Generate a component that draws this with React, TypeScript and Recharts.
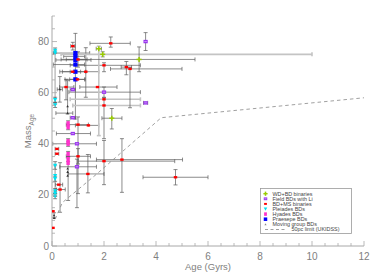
import { ErrorBar, Legend, Scatter, ScatterChart, XAxis, YAxis } from "recharts";

type Pt = {
  age: number;
  mass: number;
  ex?: [number, number];
  ey?: [number, number];
  exL?: [number, number];
  eyL?: [number, number];
};

// values (age in Gyr, mass in Mjup)
const wdBdBinaries: Pt[] = [
  { age: 1.8, mass: 77.2, ex: [0.1, 0.1], eyL: [34, 1] },
  { age: 1.95, mass: 75, exL: [1.6, 8.05], ey: [1, 1] },
  { age: 3.35, mass: 73, ex: [3.0, 2.15], ey: [4.8, 4.9] },
  { age: 2.3, mass: 50, ex: [0.38, 0.39], ey: [4.2, 3.8] },
];

const fieldLi: Pt[] = [
  { age: 3.6, mass: 80, ey: [3.5, 3.5] },
  { age: 3.6, mass: 56, ex: [0.08, 0.08] },
  { age: 2.0, mass: 60.2, ex: [1.35, 1.4], ey: [2, 2] },
  { age: 0.8, mass: 61.2, ex: [0.1, 0.1] },
  { age: 0.8, mass: 50.2, ex: [0.1, 0.1] },
  { age: 0.8, mass: 44, ex: [0.63, 0.68] },
  { age: 0.96, mass: 40, ex: [0.93, 0.75] },
  { age: 0.96, mass: 31, ex: [0.66, 0.75], ey: [16, 3] },
];

const bdMsBinaries: Pt[] = [
  { age: 0.8, mass: 78.2, ex: [0.08, 0.08], ey: [1.5, 1.5] },
  { age: 2.26, mass: 79.3, ex: [0.8, 0.75], ey: [1.5, 2.5] },
  { age: 1.0, mass: 73, ex: [0.45, 0.35], ey: [3, 3] },
  { age: 2.0, mass: 70.7, ex: [1.3, 1.4], ey: [2.5, 1] },
  { age: 2.86, mass: 70, ex: [0.2, 0.2], ey: [3, 2.2] },
  { age: 3.0, mass: 69.3, ex: [0.75, 2.0], ey: [15.2, 0.5] },
  { age: 0.8, mass: 68.2, ex: [0.4, 0.3] },
  { age: 1.3, mass: 68.2, ex: [0.6, 0.5], ey: [10, 9.4] },
  { age: 0.98, mass: 65.2, ex: [0.3, 0.3] },
  { age: 0.54, mass: 62.2, ex: [0.25, 0.3], ey: [5, 3] },
  { age: 1.75, mass: 62.2, ex: [0.68, 0.75] },
  { age: 2.0, mass: 57.4, exL: [1.3, 1.4] },
  { age: 2.0, mass: 55, exL: [1.2, 1.4], ey: [13, 3] },
  { age: 1.0, mass: 47.5, ex: [0.45, 0.4], ey: [27, 3] },
  { age: 1.4, mass: 47.2, ex: [0.5, 0.4] },
  { age: 0.19, mass: 38, ex: [0.07, 0.07] },
  { age: 0.19, mass: 36.1, ex: [0.07, 0.07] },
  { age: 1.0, mass: 35.1, ex: [0.45, 0.48], ey: [3, 3] },
  { age: 2.0, mass: 33.2, ex: [1.0, 2.72], ey: [9.2, 8.1] },
  { age: 2.69, mass: 33.8, ex: [0.98, 2.33], ey: [12.8, 8.2] },
  { age: 4.75, mass: 26.9, ex: [1.25, 1.25], ey: [3, 3] },
  { age: 1.38, mass: 28.2, ex: [0.76, 0.62], ey: [7.4, 7.6] },
  { age: 0.26, mass: 24, ex: [0.12, 0.15] },
  { age: 0.31, mass: 22.1, ex: [0.14, 0.2], ey: [8.9, 10.5] },
  { age: 0.04, mass: 13.6 },
  { age: 0.04, mass: 7.1 },
];

const pleiades: Pt[] = [
  { age: 0.12, mass: 76.5, ey: [1, 1] },
  { age: 0.12, mass: 75.5, eyL: [20, 1] },
  { age: 0.12, mass: 57.2, ey: [1, 1] },
  { age: 0.12, mass: 55.2, ey: [1, 1] },
  { age: 0.12, mass: 31.5, ey: [1.5, 1.5] },
  { age: 0.12, mass: 27.5, eyL: [8, 4] },
  { age: 0.12, mass: 26.3, ey: [1, 1] },
  { age: 0.12, mass: 21.5, ey: [1, 1] },
  { age: 0.12, mass: 20.5, ey: [1, 1] },
  { age: 0.12, mass: 19.5, ey: [1, 1] },
];

const hyades: Pt[] = [
  { age: 0.62, mass: 48, ey: [1, 1] },
  { age: 0.62, mass: 46.5, ey: [1, 1] },
  { age: 0.62, mass: 41, ey: [1, 1] },
  { age: 0.62, mass: 40, ey: [1, 1] },
  { age: 0.62, mass: 36, ey: [1, 1] },
  { age: 0.62, mass: 34, ey: [1, 1] },
  { age: 0.62, mass: 32.5, ey: [14.7, 2] },
];

const praesepe: Pt[] = [
  { age: 0.9, mass: 75.5, ex: [0.85, 0.55] },
  { age: 0.9, mass: 74.2, ex: [0.45, 0.35] },
  { age: 0.9, mass: 72.8, ex: [0.75, 0.6] },
  { age: 0.9, mass: 71, ex: [0.85, 0.35] },
  { age: 0.9, mass: 68.2, ex: [0.6, 0.4] },
  { age: 0.9, mass: 65.2, ex: [0.4, 0.35], ey: [15.5, 18] },
];

const movingGroup: Pt[] = [
  { age: 0.3, mass: 61.3, ex: [0.1, 0.1], ey: [5, 5] },
  { age: 0.6, mass: 54.7, ey: [3, 10] },
  { age: 0.6, mass: 52, ex: [0.45, 0.2] },
  { age: 0.6, mass: 30.3 },
  { age: 0.6, mass: 29 },
  { age: 0.6, mass: 27.5 },
  { age: 0.08, mass: 12, ey: [1, 1] },
  { age: 0.08, mass: 11 },
];

const limitAges = [0.12, 0.4, 1.7, 4.2, 12];
const limitMass = [10.5, 17, 28, 50.2, 58];
const limitLine = limitAges.map((age, i) => ({ age, mass: limitMass[i] }));

const X_TICKS = [0, 0.5, 1, 1.5, 2, 2.5, 3, 3.5, 4, 4.5, 5, 5.5, 6, 6.5, 7, 7.5, 8, 8.5, 9, 9.5, 10, 10.5, 11, 11.5, 12];
const Y_TICKS = [0, 5, 10, 15, 20, 25, 30, 35, 40, 45, 50, 55, 60, 65, 70, 75, 80, 85, 90];

const FONT = '"Liberation Sans", Arial, sans-serif';
const AXIS = "#a8a8a8";
const TEXT = "#808080";

type Marker = "plus" | "field" | "red" | "tri" | "sqM" | "sqB" | "small";

const SERIES: { name: string; data: Pt[]; color: string; marker: Marker }[] = [
  { name: "WD+BD binaries", data: wdBdBinaries, color: "#99cc00", marker: "plus" },
  { name: "Field BDs with Li", data: fieldLi, color: "#9933ee", marker: "field" },
  { name: "BD+MS binaries", data: bdMsBinaries, color: "#ff0000", marker: "red" },
  { name: "Pleiades BDs", data: pleiades, color: "#00e0f0", marker: "tri" },
  { name: "Hyades BDs", data: hyades, color: "#ff33cc", marker: "sqM" },
  { name: "Praesepe BDs", data: praesepe, color: "#0000ff", marker: "sqB" },
  { name: "Moving group BDs", data: movingGroup, color: "#333333", marker: "small" },
];

const drawMarker = (m: Marker, c: string, cx: number, cy: number, s = 0.85) => {
  switch (m) {
    case "plus":
      return (
        <g>
          <line x1={cx - 3 * s} x2={cx + 3 * s} y1={cy} y2={cy} stroke={c} strokeWidth={1.5} />
          <line x1={cx} x2={cx} y1={cy - 3 * s} y2={cy + 3 * s} stroke={c} strokeWidth={1.5} />
        </g>
      );
    case "field":
      return (
        <g>
          <rect x={cx - 2.5 * s} y={cy - 2 * s} width={5 * s} height={4 * s} fill={c} />
          <line x1={cx - 1.5 * s} x2={cx + 1.5 * s} y1={cy} y2={cy} stroke="#e0b8ff" strokeWidth={0.7} />
        </g>
      );
    case "red":
      return <rect x={cx - 2 * s} y={cy - 1.4 * s} width={4 * s} height={2.8 * s} fill={c} />;
    case "tri":
      return <path d={`M${cx - 2.5 * s},${cy - 2 * s}L${cx + 2.5 * s},${cy - 2 * s}L${cx},${cy + 2.5 * s}Z`} fill={c} />;
    case "sqM":
      return <rect x={cx - 2 * s} y={cy - 2.5 * s} width={4 * s} height={5 * s} fill={c} />;
    case "sqB":
      return <rect x={cx - 2.5 * s} y={cy - 2.5 * s} width={5 * s} height={5 * s} fill={c} />;
    default:
      return <path d={`M${cx - 1.5 * s},${cy + 1.2 * s}L${cx + 1.5 * s},${cy + 1.2 * s}L${cx},${cy - 1.5 * s}Z`} fill={c} />;
  }
};

const BottomTick = (p: any) => {
  const v = p.payload.value;
  const major = v % 2 === 0;
  return (
    <g>
      <line x1={p.x} x2={p.x} y1={p.y} y2={p.y - (major ? 5 : 3)} stroke={AXIS} strokeWidth={0.8} />
      {major && (
        <text x={p.x} y={p.y + 14} textAnchor="middle" fontSize={10} fill={TEXT} fontFamily={FONT}>
          {v}
        </text>
      )}
    </g>
  );
};

const TopTick = (p: any) => {
  const major = p.payload.value % 2 === 0;
  return <line x1={p.x} x2={p.x} y1={p.y} y2={p.y + (major ? 5 : 3)} stroke={AXIS} strokeWidth={0.8} />;
};

const LeftTick = (p: any) => {
  const v = p.payload.value;
  const major = v % 20 === 0;
  return (
    <g>
      <line x1={p.x} x2={p.x + (major ? 5 : 3)} y1={p.y} y2={p.y} stroke={AXIS} strokeWidth={0.8} />
      {major && (
        <text x={p.x - 3} y={p.y + 3.5} textAnchor="end" fontSize={10} fill={TEXT} fontFamily={FONT}>
          {v}
        </text>
      )}
    </g>
  );
};

const RightTick = (p: any) => {
  const major = p.payload.value % 20 === 0;
  return <line x1={p.x} x2={p.x - (major ? 5 : 3)} y1={p.y} y2={p.y} stroke={AXIS} strokeWidth={0.8} />;
};

const XTitle = (p: any) => {
  const vb = p.viewBox;
  return (
    <text x={vb.x + vb.width / 2} y={vb.y + 24} textAnchor="middle" fontSize={9.5} fill={TEXT} fontFamily={FONT}>
      Age (Gyrs)
    </text>
  );
};

const YTitle = (p: any) => {
  const vb = p.viewBox;
  return (
    <text
      transform={`translate(${vb.x + 31},${vb.y + vb.height / 2}) rotate(-90)`}
      textAnchor="middle"
      fontSize={9.5}
      fill={TEXT}
      fontFamily={FONT}
    >
      Mass
      <tspan dy={2.5} fontSize={6.5}>
        Age
      </tspan>
    </text>
  );
};

const LegendBox = () => (
  <svg width={92} height={46} style={{ display: "block" }}>
    <rect x={0.5} y={0.5} width={91} height={45} fill="#fff" stroke="#999" strokeWidth={0.8} />
    {SERIES.map((s, i) => {
      const y = 5.7 + i * 5.1;
      return (
        <g key={s.name}>
          {drawMarker(s.marker, s.marker === "small" ? "#888" : s.color, 5.5, y, 0.7)}
          <text x={12.5} y={y + 1.9} fontSize={5.4} fill="#444" fontFamily={FONT}>
            {s.name}
          </text>
        </g>
      );
    })}
    <line x1={5} x2={27} y1={41.5} y2={41.5} stroke="#777" strokeWidth={0.7} strokeDasharray="3 2.5" />
    <text x={31.5} y={43.4} fontSize={5.4} fill="#444" fontFamily={FONT}>
      50pc limit (UKIDSS)
    </text>
  </svg>
);

const DRAW_ORDER = [6, 4, 3, 5, 2, 1, 0];

export default function App() {
  return (
    <div style={{ position: "fixed", left: 0, top: 0, background: "#fff" }}>
      <ScatterChart width={380} height={280} margin={{ top: 16, right: 16, bottom: 0, left: 0 }}>
        <XAxis
          xAxisId="b"
          dataKey="age"
          type="number"
          domain={[0, 12]}
          allowDataOverflow
          ticks={X_TICKS}
          interval={0}
          height={34}
          tickSize={0}
          tickMargin={0}
          stroke={AXIS}
          tick={BottomTick}
          label={{ content: XTitle }}
        />
        <XAxis
          xAxisId="t"
          orientation="top"
          dataKey="age"
          type="number"
          domain={[0, 12]}
          allowDataOverflow
          ticks={X_TICKS}
          interval={0}
          height={0}
          tickSize={0}
          tickMargin={0}
          stroke={AXIS}
          tick={TopTick}
        />
        <YAxis
          yAxisId="l"
          dataKey="mass"
          type="number"
          domain={[0, 90]}
          allowDataOverflow
          ticks={Y_TICKS}
          interval={0}
          width={52}
          tickSize={0}
          tickMargin={0}
          stroke={AXIS}
          tick={LeftTick}
          label={{ content: YTitle }}
        />
        <YAxis
          yAxisId="r"
          orientation="right"
          dataKey="mass"
          type="number"
          domain={[0, 90]}
          allowDataOverflow
          ticks={Y_TICKS}
          interval={0}
          width={0}
          tickSize={0}
          tickMargin={0}
          stroke={AXIS}
          tick={RightTick}
        />
        <Scatter
          name="50pc limit (UKIDSS)"
          xAxisId="t"
          yAxisId="r"
          data={limitLine}
          line={{ stroke: "#888", strokeWidth: 0.8, strokeDasharray: "3.5 3" }}
          shape={() => <g />}
          isAnimationActive={false}
        />
        {DRAW_ORDER.map((idx) => {
          const s = SERIES[idx];
          return (
            <Scatter
              key={s.name}
              name={s.name}
              xAxisId="b"
              yAxisId="l"
              data={s.data}
              isAnimationActive={false}
              shape={(p: any) => (p.cx == null ? <g /> : drawMarker(s.marker, s.color, p.cx, p.cy))}
            >
              <ErrorBar dataKey="exL" direction="x" width={2} stroke="#c4c4c4" strokeWidth={1.6} isAnimationActive={false} />
              <ErrorBar dataKey="eyL" direction="y" width={2} stroke="#c4c4c4" strokeWidth={1.6} isAnimationActive={false} />
              <ErrorBar dataKey="ex" direction="x" width={2} stroke="#5a5a5a" strokeWidth={0.7} isAnimationActive={false} />
              <ErrorBar dataKey="ey" direction="y" width={2} stroke="#5a5a5a" strokeWidth={0.7} isAnimationActive={false} />
            </Scatter>
          );
        })}
        <Legend
          layout="vertical"
          align="center"
          verticalAlign="middle"
          wrapperStyle={{ left: 260, top: 188, width: 92, height: 46 }}
          content={LegendBox}
        />
      </ScatterChart>
    </div>
  );
}
